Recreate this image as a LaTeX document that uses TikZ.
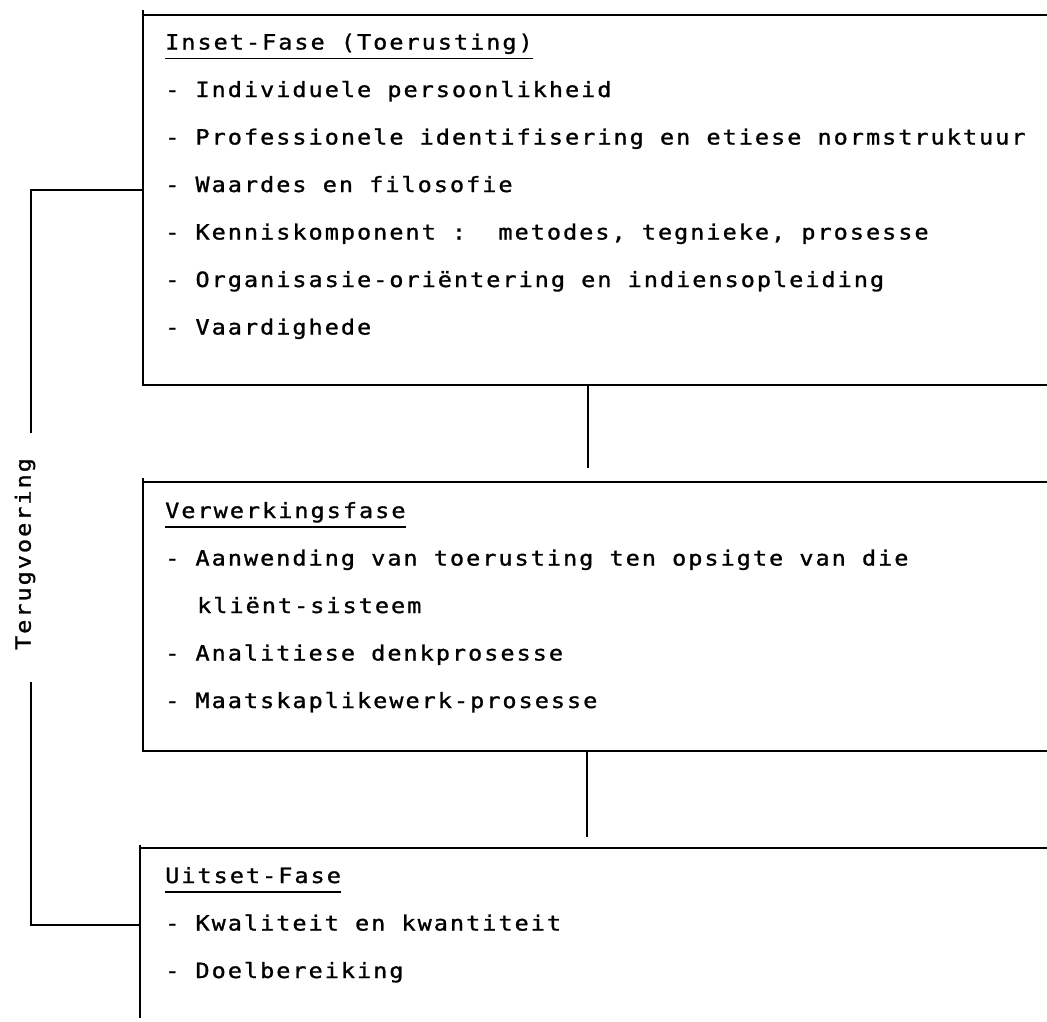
\documentclass[tikz,border=0pt]{standalone}
\usepackage{fontspec}
\newfontfamily\typefont[LetterSpace=9.5,FakeStretch=1.12,FakeBold=1.2]{DejaVu Sans Mono}
\begin{document}
\begin{tikzpicture}[x=1pt,y=-1pt,
  rule/.style={line width=1.8pt},
  txt/.style={anchor=base west, inner sep=0pt, font=\typefont\fontsize{21}{21}\selectfont},
  ttl/.style={txt},
  uline/.style={line width=1.4pt}]
\useasboundingbox (0,0) rectangle (1047,1021);
% box 1
\coordinate (b1up) at (143,10);
\coordinate (b1tl) at (143,15);
\coordinate (b1tr) at (1047,15);
\coordinate (b1bl) at (143,385);
\coordinate (b1br) at (1047,385);
\coordinate (b1fb) at (143,190);
\draw[rule] (b1up) -- (b1bl) -- (b1br);
\draw[rule] (b1tl) -- (b1tr);
% connector 1
\coordinate (c1a) at (588,385);
\coordinate (c1b) at (588,468);
\draw[rule] (c1a) -- (c1b);
% box 2
\coordinate (b2up) at (143,478);
\coordinate (b2tl) at (143,482);
\coordinate (b2tr) at (1047,482);
\coordinate (b2bl) at (143,751);
\coordinate (b2br) at (1047,751);
\draw[rule] (b2up) -- (b2bl) -- (b2br);
\draw[rule] (b2tl) -- (b2tr);
% connector 2
\coordinate (c2a) at (587,751);
\coordinate (c2b) at (587,837);
\draw[rule] (c2a) -- (c2b);
% box 3
\coordinate (b3up) at (140,845);
\coordinate (b3tl) at (140,848);
\coordinate (b3tr) at (1047,848);
\coordinate (b3bl) at (140,1018);
\coordinate (b3fb) at (140,925);
\draw[rule] (b3up) -- (b3bl);
\draw[rule] (b3tl) -- (b3tr);
% feedback
\coordinate (fbtop) at (31,190);
\coordinate (fbmida) at (31,433);
\coordinate (fbmidb) at (31,682);
\coordinate (fbbot) at (31,925);
\draw[rule] (b1fb) -- (fbtop) -- (fbmida);
\draw[rule] (fbmidb) -- (fbbot) -- (b3fb);
\node[txt, anchor=center, rotate=90] (fb) at (25,554) {Terugvoering};
% box 1 text
\node[ttl] (t1) at (165,49.5) {Inset-Fase (Toerusting)};
\draw[uline] ([yshift=-9pt]t1.base west) -- ([yshift=-9pt]t1.base east);
\node[txt] (a1) at (165,97) {- Individuele persoonlikheid};
\node[txt] (a2) at (165,144.5) {- Professionele identifisering en etiese normstruktuur};
\node[txt] (a3) at (165,192) {- Waardes en filosofie};
\node[txt] (a4) at (165,239.5) {- Kenniskomponent :\ \ metodes, tegnieke, prosesse};
\node[txt] (a5) at (165,287) {- Organisasie-oriëntering en indiensopleiding};
\node[txt] (a6) at (165,334.5) {- Vaardighede};
% box 2 text
\node[ttl] (t2) at (165,518) {Verwerkingsfase};
\draw[uline] ([yshift=-9pt]t2.base west) -- ([yshift=-9pt]t2.base east);
\node[txt] (v1) at (165,565.5) {- Aanwending van toerusting ten opsigte van die};
\node[txt] (v2) at (197,613) {kliënt-sisteem};
\node[txt] (v3) at (165,660.5) {- Analitiese denkprosesse};
\node[txt] (v4) at (165,708) {- Maatskaplikewerk-prosesse};
% box 3 text
\node[ttl] (t3) at (165,883) {Uitset-Fase};
\draw[uline] ([yshift=-9pt]t3.base west) -- ([yshift=-9pt]t3.base east);
\node[txt] (u1) at (165,930.5) {- Kwaliteit en kwantiteit};
\node[txt] (u2) at (165,978) {- Doelbereiking};
\end{tikzpicture}
\end{document}
